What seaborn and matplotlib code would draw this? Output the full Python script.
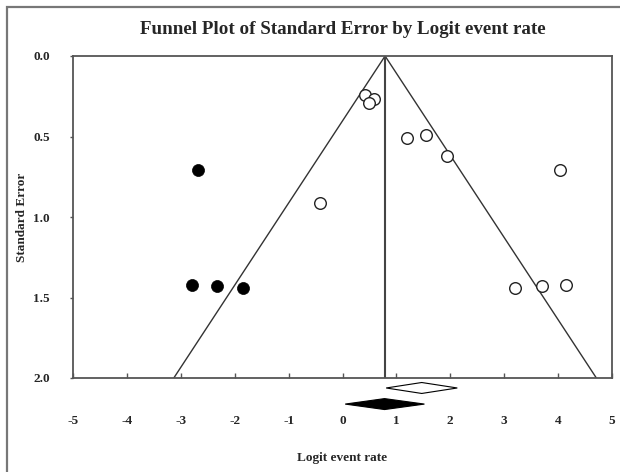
import matplotlib
matplotlib.use("Agg")
import matplotlib.pyplot as plt
from matplotlib.patches import Rectangle
import seaborn as sns

# Data
observed_x = [0.42, 0.58, 0.49, 1.20, 1.55, 1.93, -0.42, 4.04, 3.20, 3.70, 4.15]
observed_se = [0.24, 0.27, 0.295, 0.51, 0.49, 0.62, 0.91, 0.71, 1.44, 1.43, 1.42]
imputed_x = [-2.68, -2.80, -2.33, -1.84]
imputed_se = [0.71, 1.42, 1.43, 1.44]
funnel_mean = 0.79
se_max = 2.0
observed_diamond = [0.81, 1.47, 2.13]   # lower, point, upper
adjusted_diamond = [0.05, 0.78, 1.52]
x_ticks = [-5, -4, -3, -2, -1, 0, 1, 2, 3, 4, 5]
y_ticks = [0.0, 0.5, 1.0, 1.5, 2.0]

sns.set_style("white")
plt.rcParams["font.family"] = ["Liberation Serif", "DejaVu Serif"]
plt.rcParams["font.weight"] = "bold"

fig = plt.figure(figsize=(6.2, 4.72), dpi=100)
ax = fig.add_axes([73 / 620, 1 - 378 / 472, (612 - 73) / 620, (378 - 56) / 472])

# funnel lines
ax.plot([funnel_mean - 1.96 * se_max, funnel_mean, funnel_mean + 1.96 * se_max],
        [se_max, 0, se_max], color="#333333", lw=1.0, zorder=2)
ax.plot([funnel_mean, funnel_mean], [0, se_max], color="#444444", lw=1.5, zorder=2)

sns.scatterplot(x=observed_x, y=observed_se, ax=ax, marker="o", s=70,
                facecolor="white", edgecolor="#222222", linewidth=1.0, zorder=3)
sns.scatterplot(x=imputed_x, y=imputed_se, ax=ax, marker="o", s=75,
                color="black", edgecolor="black", linewidth=0.5, zorder=3)

ax.set_xlim(-5, 5)
ax.set_ylim(2.0, 0.0)
ax.set_xticks(x_ticks)
ax.set_xticklabels([str(t) for t in x_ticks])
ax.set_yticks(y_ticks)
ax.set_yticklabels([f"{t:.1f}" for t in y_ticks])

# diamonds below the axis
h = 0.034
def diamond(vals, yc, face):
    lo, pt, hi = vals
    ax.fill([lo, pt, hi, pt], [yc, yc - h, yc, yc + h], facecolor=face,
            edgecolor="black", lw=0.8, clip_on=False, zorder=4)
diamond(observed_diamond, 2.062, "white")
diamond(adjusted_diamond, 2.162, "black")

for s in ax.spines.values():
    s.set_color("#555555")
    s.set_linewidth(1.3)
    s.set_visible(True)

ax.tick_params(axis="x", direction="in", length=3.5, width=1, color="#555555",
               pad=27, labelsize=9.5, bottom=True)
ax.tick_params(axis="y", direction="out", length=2.5, width=1, color="#555555",
               pad=14, labelsize=9.5, left=True)

ax.set_title("Funnel Plot of Standard Error by Logit event rate",
             fontsize=13.7, fontweight="bold", pad=16)
ax.set_xlabel("Logit event rate", fontsize=9.5, fontweight="bold", labelpad=18)
ax.set_ylabel("Standard Error", fontsize=9.5, fontweight="bold")
ax.yaxis.set_label_coords((28 - 73) / 539, 0.5)
ax.grid(False)

fig.patches.append(Rectangle((7 / 620, -0.2), 1.5, 1.2 - 7 / 472,
                             transform=fig.transFigure, fill=False,
                             edgecolor="#777777", lw=1.6))

fig.savefig("out.png", dpi=100, facecolor="white")
